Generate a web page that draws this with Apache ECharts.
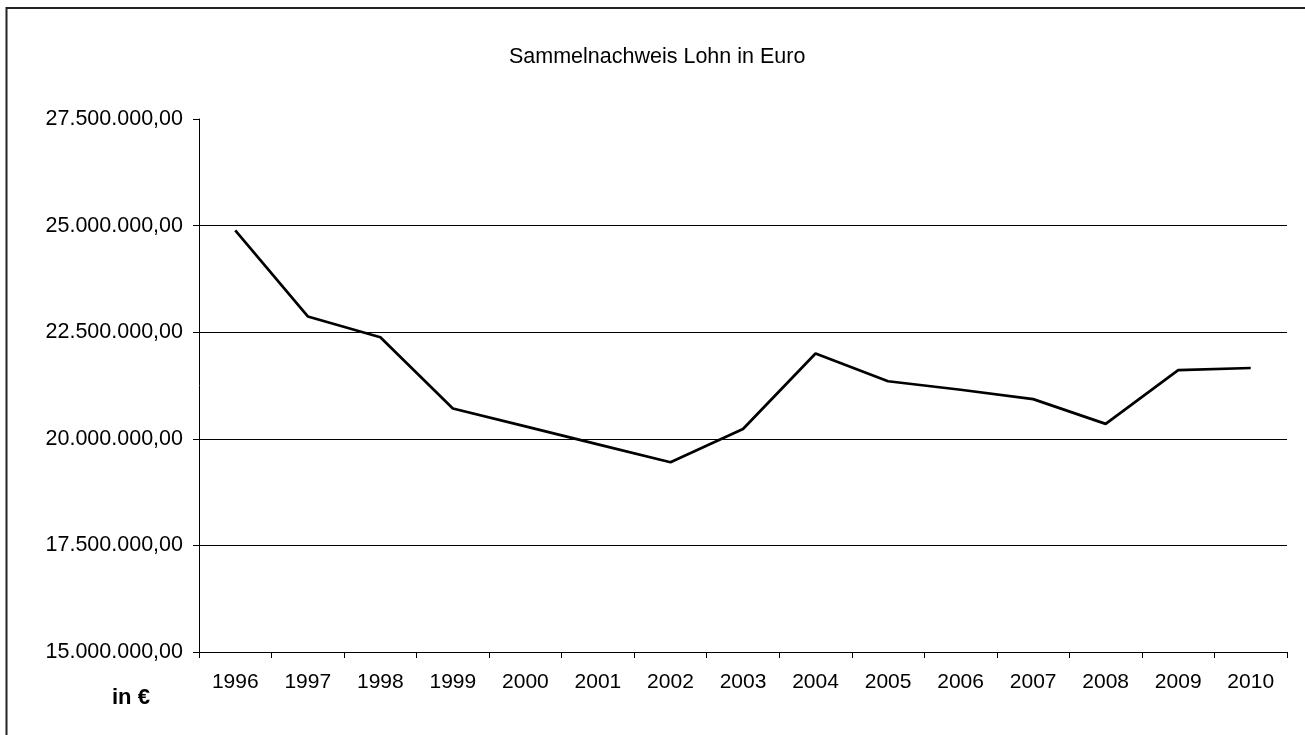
<!DOCTYPE html>
<html>
<head>
<meta charset="utf-8">
<script src="https://cdn.jsdelivr.net/npm/echarts@6/dist/echarts.min.js"></script>
<style>
  html, body { margin: 0; padding: 0; background: #fff; }
  #main { width: 1305px; height: 735px; }
</style>
</head>
<body>
<div id="main"></div>
<script>
const years = ['1996', '1997', '1998', '1999', '2000', '2001', '2002', '2003',
    '2004', '2005', '2006', '2007', '2008', '2009', '2010'];
const lohn = [24890000, 22870000, 22380000, 20710000, 20290000, 19870000, 19450000, 20230000,
    22000000, 21350000, 21150000, 20930000, 20350000, 21610000, 21660000];
const yMin = 15000000;
const yMax = 27500000;
const yStep = 2500000;

// deutsches Zahlenformat: 27.500.000,00
function formatEuro(v) {
    const parts = v.toFixed(2).split('.');
    const intPart = parts[0].replace(/\B(?=(\d{3})+(?!\d))/g, '.');
    return intPart + ',' + parts[1];
}

const font = '"Liberation Sans", Arial, sans-serif';
const chartDom = document.getElementById('main');
const myChart = echarts.init(chartDom);

const option = {
    animation: false,
    backgroundColor: '#fff',
    title: {
        text: 'Sammelnachweis Lohn in Euro',
        left: 504,
        top: 41,
        textStyle: {
            fontFamily: font,
            fontSize: 21.5,
            fontWeight: 'normal',
            color: '#000'
        }
    },
    grid: {
        left: 199,
        right: 18,
        top: 119,
        bottom: 83
    },
    xAxis: {
        type: 'category',
        data: years,
        boundaryGap: true,
        axisLine: { lineStyle: { color: '#000', width: 1 } },
        axisTick: { show: true, length: 6, lineStyle: { color: '#000' } },
        axisLabel: {
            margin: 20,
            fontFamily: font,
            fontSize: 21,
            color: '#000'
        },
        splitLine: { show: false }
    },
    yAxis: {
        type: 'value',
        min: yMin,
        max: yMax,
        interval: yStep,
        axisLine: { show: true, lineStyle: { color: '#000', width: 1 } },
        axisTick: { show: true, length: 6, lineStyle: { color: '#000' } },
        axisLabel: {
            margin: 16,
            fontFamily: font,
            fontSize: 21.5,
            color: '#000',
            formatter: formatEuro
        },
        splitLine: {
            show: true,
            showMaxLine: false,
            lineStyle: { color: '#000', width: 1 }
        }
    },
    series: [
        {
            type: 'line',
            data: lohn,
            symbol: 'none',
            lineStyle: { color: '#000', width: 2.7 },
            itemStyle: { color: '#000' }
        }
    ],
    graphic: [
        {
            type: 'polyline',
            shape: { points: [[6.5, 740], [6.5, 8], [1310, 8]] },
            style: { stroke: '#222', lineWidth: 2, fill: null }
        },
        {
            type: 'text',
            left: 112,
            top: 687,
            style: {
                text: 'in €',
                fontFamily: font,
                fontSize: 22,
                fontWeight: 'bold',
                fill: '#000'
            }
        }
    ]
};

myChart.setOption(option);
</script>
</body>
</html>
